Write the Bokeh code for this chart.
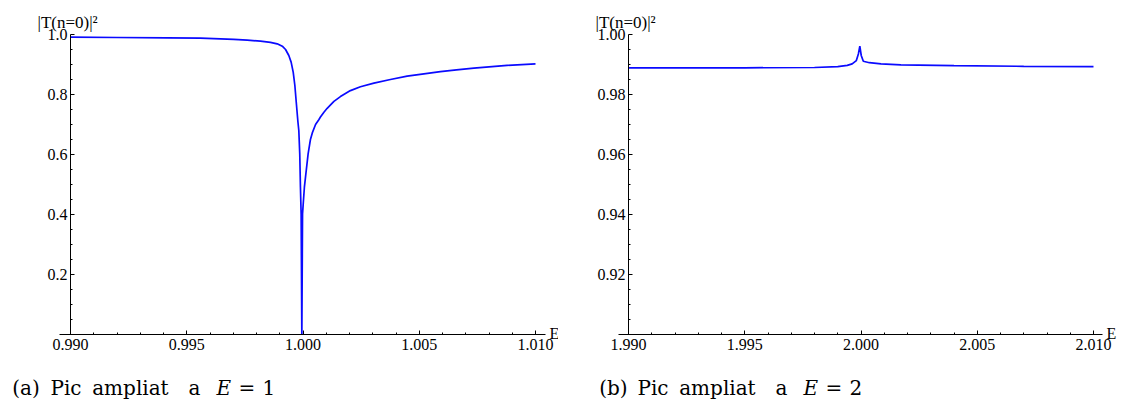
from bokeh.plotting import figure
from bokeh.models import Range1d, FixedTicker, Label, LinearAxis, PrintfTickFormatter
from bokeh.layouts import row
from bokeh.embed import file_html
from bokeh.resources import INLINE

# ---- data ----
E_a = [0.99000, 0.99200, 0.99416, 0.99559, 0.99702, 0.99760, 0.99817, 0.99860, 0.99889,
       0.99911, 0.99925, 0.99939, 0.99949, 0.99958, 0.99965, 0.99971, 0.99978, 0.99982,
       0.99986, 0.99989, 0.99992, 0.99995, 0.99998, 1.00001, 1.00006, 1.00014, 1.00022,
       1.00032, 1.00040, 1.00054, 1.00068, 1.00075, 1.00090, 1.00104, 1.00133, 1.00161,
       1.00204, 1.00247, 1.00305, 1.00376, 1.00448, 1.00520, 1.00591, 1.00660, 1.00735,
       1.00800, 1.00878, 1.01000]
T_a = [0.991, 0.990, 0.989, 0.988, 0.984, 0.981, 0.978, 0.974, 0.969,
       0.961, 0.950, 0.930, 0.908, 0.874, 0.830, 0.774, 0.710, 0.680,
       0.603, 0.491, 0.402, 0.000, 0.402, 0.436, 0.491, 0.547, 0.602,
       0.650, 0.672, 0.700, 0.716, 0.725, 0.741, 0.754, 0.777, 0.793,
       0.813, 0.826, 0.838, 0.850, 0.861, 0.869, 0.876, 0.882, 0.888,
       0.892, 0.897, 0.902]

E_b = [1.99000, 1.99500, 1.99800, 1.99900, 1.99941, 1.99962, 1.99980, 1.99989, 1.99995,
       2.00001, 2.00010, 2.00036, 2.00086, 2.00172, 2.00400, 2.00700, 2.01000]
T_b = [0.9889, 0.9889, 0.9890, 0.9893, 0.9897, 0.9902, 0.9913, 0.9936, 0.9961,
       0.9930, 0.9911, 0.9906, 0.9902, 0.9899, 0.9896, 0.9894, 0.9893]

xticks_a = [0.990, 0.995, 1.000, 1.005, 1.010]
xticks_b = [1.990, 1.995, 2.000, 2.005, 2.010]
yticks_a = [0.2, 0.4, 0.6, 0.8, 1.0]
yticks_b = [0.92, 0.94, 0.96, 0.98, 1.00]
ybottom_a = 0.0
ybottom_b = 0.90

y_title = "|T(n=0)|²"
x_title = "E"
caption_a = ["(a)", "Pic", "ampliat", "a", "E", "=", "1"]
caption_b = ["(b)", "Pic", "ampliat", "a", "E", "=", "2"]

SERIF = "Liberation Serif"
CAPFONT = "DejaVu Serif"
BLUE = "#0a0aff"
H = 400


def minors(ticks, n):
    out = []
    for a, b in zip(ticks[:-1], ticks[1:]):
        step = (b - a) / n
        out += [a + step * k for k in range(1, n)]
    return out


def make_panel(E, T, xticks, yticks, ybottom, xfmt, yfmt, caption, width,
               ax_left, ax_right, cap_x):
    # pixel geometry (canvas coords, top-left origin)
    px_x0, px_x1 = 70, 535      # first / last x tick
    px_ytop, px_ybot = 34, 334  # top y tick / x-axis line
    sx = (px_x1 - px_x0) / (xticks[-1] - xticks[0])
    sy = (px_ybot - px_ytop) / (yticks[-1] - ybottom)
    xr = Range1d(xticks[0] - px_x0 / sx, xticks[0] + (width - px_x0) / sx)
    yr = Range1d(ybottom - (H - px_ybot) / sy, yticks[-1] + px_ytop / sy)
    p = figure(width=width, height=H, output_backend="svg", toolbar_location=None,
               x_range=xr, y_range=yr, x_axis_location=None, y_axis_location=None,
               min_border_left=0, min_border_right=0, min_border_top=0, min_border_bottom=0)
    p.outline_line_color = None
    p.xgrid.visible = False
    p.ygrid.visible = False
    p.background_fill_color = "white"
    p.border_fill_color = "white"

    xa = LinearAxis(ticker=FixedTicker(ticks=xticks, minor_ticks=minors(xticks, 5)),
                    formatter=PrintfTickFormatter(format=xfmt),
                    fixed_location=ybottom,
                    bounds=(xticks[0] - (px_x0 - ax_left) / sx,
                            xticks[-1] + (ax_right - px_x1) / sx))
    ya = LinearAxis(ticker=FixedTicker(ticks=yticks,
                                       minor_ticks=minors([ybottom] + yticks, 4)),
                    formatter=PrintfTickFormatter(format=yfmt),
                    fixed_location=xticks[0],
                    bounds=(ybottom, yticks[-1]))
    for ax in (xa, ya):
        ax.axis_line_color = "black"
        ax.axis_line_width = 1
        ax.major_tick_in = 4
        ax.major_tick_out = 0
        ax.minor_tick_in = 2
        ax.minor_tick_out = 0
        ax.major_tick_line_color = "black"
        ax.minor_tick_line_color = "black"
        ax.major_label_text_font = SERIF
        ax.major_label_text_font_size = "16px"
        ax.major_label_text_color = "black"
    xa.major_label_standoff = 4
    ya.major_label_standoff = 3
    p.add_layout(xa, "below")
    p.add_layout(ya, "left")

    p.line(E, T, line_color=BLUE, line_width=1.7)

    # axis titles (screen units from the canvas' lower-left corner)
    p.add_layout(Label(x=37, y=H - 22, x_units="screen", y_units="screen", text=y_title,
                       text_font=SERIF, text_font_size="17px", text_color="black",
                       text_baseline="alphabetic", text_align="left"))
    p.add_layout(Label(x=ax_right + 4, y=H - px_ybot + 1, x_units="screen", y_units="screen",
                       text=x_title, text_font=SERIF, text_font_size="16px",
                       text_color="black", text_baseline="middle", text_align="left"))
    # caption, word by word
    for word, cx in zip(caption, cap_x):
        p.add_layout(Label(x=cx, y=H - 387, x_units="screen", y_units="screen",
                           text=word, text_font=CAPFONT, text_font_size="20px",
                           text_color="black", text_baseline="alphabetic", text_align="left",
                           text_font_style="italic" if word == "E" else "normal"))
    return p


cap_left = [11.7, 50, 91.7, 188, 216, 238, 262]
cap_right = [c + 29 for c in cap_left]

p1 = make_panel(E_a, T_a, xticks_a, yticks_a, ybottom_a, "%.3f", "%.1f", caption_a,
                558, 59, 545, cap_left)
p2 = make_panel(E_b, T_b, xticks_b, yticks_b, ybottom_b, "%.3f", "%.2f", caption_b,
                565, 60, 544, cap_right)

layout = row(p1, p2, spacing=0)
open("out.html", "w").write(file_html(layout, INLINE))
